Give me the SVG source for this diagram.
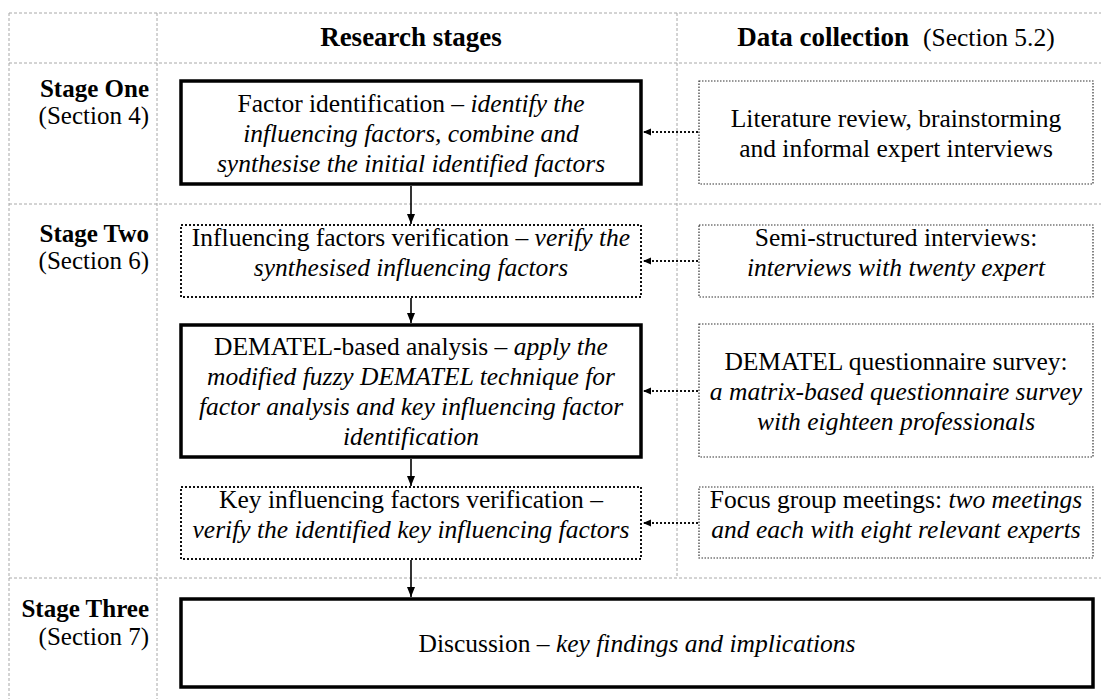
<svg xmlns="http://www.w3.org/2000/svg" width="1101" height="699" viewBox="0 0 1101 699">
<defs>
<style>
.grid{stroke:#a8a8a8;stroke-width:1;stroke-dasharray:3 2;fill:none}
.thick{fill:#fff;stroke:#000;stroke-width:3.5}
.dot{fill:#fff;stroke:#111;stroke-width:2;stroke-dasharray:2 2}
.dbox{fill:#fff;stroke:#333;stroke-width:1.2;stroke-dasharray:1.5 1.5}
.t{font-family:"Liberation Serif","Times New Roman",serif;font-size:25.5px;fill:#000}
.c{text-anchor:middle}
.i{font-style:italic}
.lab{font-family:"Liberation Serif","Times New Roman",serif;font-size:25px;fill:#000;text-anchor:end}
.b{font-weight:bold}
.hd{font-family:"Liberation Serif","Times New Roman",serif;font-size:27px;font-weight:bold;fill:#000}
.v{stroke:#000;stroke-width:1.6;fill:none}
.h{stroke:#111;stroke-width:1.8;stroke-dasharray:2 2;fill:none}
</style>
<marker id="av" markerWidth="10" markerHeight="10" refX="10" refY="5" orient="auto" markerUnits="userSpaceOnUse">
<path d="M0,1 L10,5 L0,9 Z" fill="#000"/>
</marker>
<marker id="ah" markerWidth="8" markerHeight="8" refX="8" refY="4" orient="auto" markerUnits="userSpaceOnUse">
<path d="M0,0.5 L8,4 L0,7.5 Z" fill="#000"/>
</marker>
</defs>

<g id="grid">
<line class="grid" x1="9" y1="13" x2="1101" y2="13"/>
<line class="grid" x1="9" y1="63" x2="1101" y2="63"/>
<line class="grid" x1="9" y1="204" x2="1101" y2="204"/>
<line class="grid" x1="9" y1="578" x2="1101" y2="578"/>
<line class="grid" x1="9" y1="13" x2="9" y2="699"/>
<line class="grid" x1="157" y1="13" x2="157" y2="699"/>
<line class="grid" x1="677" y1="13" x2="677" y2="578"/>
</g>

<g id="headers">
<text class="hd c" x="411" y="46">Research stages</text>
<text x="896" y="46" text-anchor="middle"><tspan class="hd">Data collection</tspan><tspan class="t" dx="14">(Section 5.2)</tspan></text>
</g>

<g id="stage-labels">
<text class="lab b" x="149" y="97">Stage One</text>
<text class="lab" x="149" y="124">(Section 4)</text>
<text class="lab b" x="149" y="242">Stage Two</text>
<text class="lab" x="149" y="269">(Section 6)</text>
<text class="lab b" x="149" y="617">Stage Three</text>
<text class="lab" x="149" y="645">(Section 7)</text>
</g>

<g id="connectors">
<line class="v" x1="411" y1="186" x2="411" y2="224" marker-end="url(#av)"/>
<line class="v" x1="411" y1="298" x2="411" y2="323" marker-end="url(#av)"/>
<line class="v" x1="411" y1="459" x2="411" y2="486" marker-end="url(#av)"/>
<line class="v" x1="411" y1="560" x2="411" y2="597" marker-end="url(#av)"/>
<line class="h" x1="698" y1="132" x2="643" y2="132" marker-end="url(#ah)"/>
<line class="h" x1="698" y1="261" x2="643" y2="261" marker-end="url(#ah)"/>
<line class="h" x1="698" y1="391" x2="643" y2="391" marker-end="url(#ah)"/>
<line class="h" x1="698" y1="523" x2="643" y2="523" marker-end="url(#ah)"/>
</g>

<g id="stage1-box">
<rect class="thick" x="181" y="81" width="460" height="103"/>
<text class="t c" x="411" y="111.5">Factor identification – <tspan class="i">identify the</tspan></text>
<text class="t c i" x="411" y="141.5">influencing factors, combine and</text>
<text class="t c i" x="411" y="171.5">synthesise the initial identified factors</text>
</g>

<g id="verify-box">
<rect class="dot" x="181" y="225" width="460" height="72"/>
<text class="t c" x="411" y="246">Influencing factors verification – <tspan class="i">verify the</tspan></text>
<text class="t c i" x="411" y="276">synthesised influencing factors</text>
</g>

<g id="dematel-box">
<rect class="thick" x="181" y="325" width="460" height="132"/>
<text class="t c" x="411" y="355">DEMATEL-based analysis – <tspan class="i">apply the</tspan></text>
<text class="t c i" x="411" y="385">modified fuzzy DEMATEL technique for</text>
<text class="t c i" x="411" y="415">factor analysis and key influencing factor</text>
<text class="t c i" x="411" y="445">identification</text>
</g>

<g id="key-verify-box">
<rect class="dot" x="181" y="487" width="460" height="72"/>
<text class="t c" x="411" y="508">Key influencing factors verification –</text>
<text class="t c i" x="411" y="538">verify the identified key influencing factors</text>
</g>

<g id="discussion-box">
<rect class="thick" x="181" y="599" width="912" height="88"/>
<text class="t c" x="637" y="652">Discussion – <tspan class="i">key findings and implications</tspan></text>
</g>

<g id="data-literature">
<rect class="dbox" x="699" y="81" width="394" height="103"/>
<text class="t c" x="896" y="127">Literature review, brainstorming</text>
<text class="t c" x="896" y="157">and informal expert interviews</text>
</g>

<g id="data-interviews">
<rect class="dbox" x="699" y="225" width="394" height="72"/>
<text class="t c" x="896" y="246">Semi-structured interviews:</text>
<text class="t c i" x="896" y="276">interviews with twenty expert</text>
</g>

<g id="data-questionnaire">
<rect class="dbox" x="699" y="324" width="394" height="133"/>
<text class="t c" x="896" y="370">DEMATEL questionnaire survey:</text>
<text class="t c i" x="896" y="400">a matrix-based questionnaire survey</text>
<text class="t c i" x="896" y="430">with eighteen professionals</text>
</g>

<g id="data-focus">
<rect class="dbox" x="699" y="487" width="394" height="71"/>
<text class="t c" x="896" y="508">Focus group meetings: <tspan class="i">two meetings</tspan></text>
<text class="t c i" x="896" y="538">and each with eight relevant experts</text>
</g>
</svg>
